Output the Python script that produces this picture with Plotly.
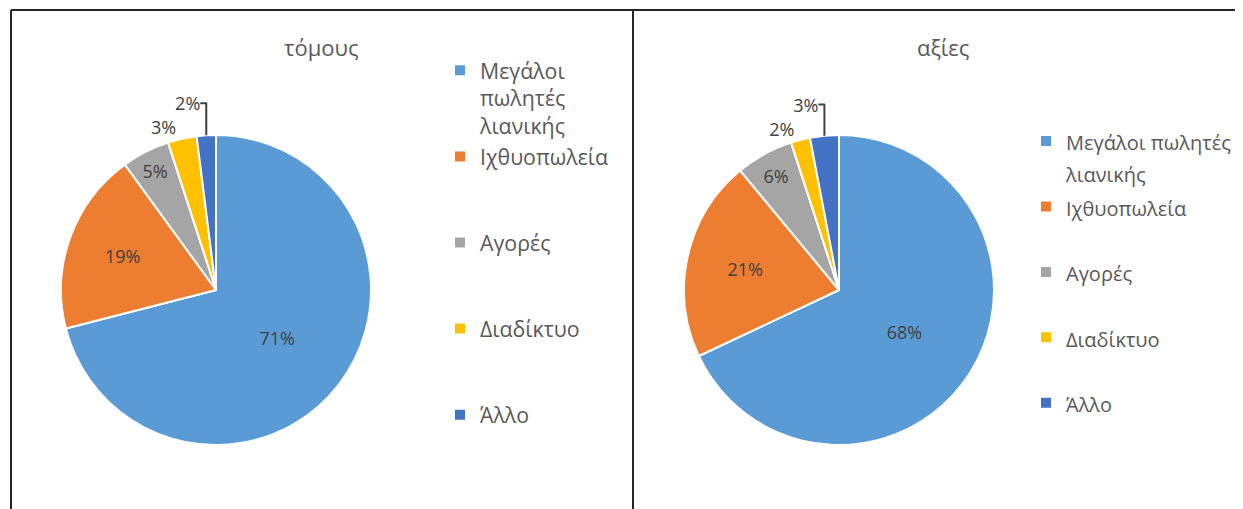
import plotly.graph_objects as go

# the page puts the figure 8px in from the window corner
OFF = 8
W, H = 1243 - OFF, 509 - OFF

categories = ["Μεγάλοι πωλητές λιανικής", "Ιχθυοπωλεία", "Αγορές", "Διαδίκτυο", "Άλλο"]
volume_pct = [71, 19, 5, 3, 2]   # τόμους
value_pct = [68, 21, 6, 2, 3]    # αξίες
slice_colors = ["#5B9BD5", "#ED7D31", "#A5A5A5", "#FFC000", "#4472C4"]
text_pos = ["inside", "inside", "inside", "outside", "outside"]

FONT = "Open Sans"


def px(x, y):
    # window pixel position -> paper coords (margins are zero)
    return (x - OFF) / W, 1 - (y - OFF) / H


# legend labels padded with blank lines so the entries spread out like Excel's
left_labels = ["<br>".join(categories[0].split())] + [c + "<br> <br> " for c in categories[1:]]


def big(s):
    return "<span style='font-size:20px'>" + s + "</span>"


right_labels = [big("Μεγάλοι πωλητές") + "<br>" + big("λιανικής")] + [big(c) + "<br> " for c in categories[1:]]

fig = go.Figure()

fig.add_trace(go.Pie(
    labels=left_labels, values=volume_pct, sort=False,
    direction="clockwise", rotation=0,
    marker=dict(colors=slice_colors, line=dict(color="white", width=2)),
    textinfo="percent", textposition=text_pos,
    textfont=dict(family=FONT, size=18, color="#404040"),
    domain=dict(x=[px(61, 0)[0], px(371, 0)[0]], y=[px(0, 445)[1], px(0, 135)[1]]),
    legend="legend", hoverinfo="skip", name="τόμους",
))

fig.add_trace(go.Pie(
    labels=right_labels, values=value_pct, sort=False,
    direction="clockwise", rotation=0,
    marker=dict(colors=slice_colors, line=dict(color="white", width=2)),
    textinfo="percent", textposition=text_pos,
    textfont=dict(family=FONT, size=18, color="#404040"),
    domain=dict(x=[px(684, 0)[0], px(994, 0)[0]], y=[px(0, 445)[1], px(0, 135)[1]]),
    legend="legend2", hoverinfo="skip", name="αξίες",
))

# chart frames
line = dict(color="#262626", width=2)
top = px(0, 10)[1]
shapes = [
    dict(type="line", xref="paper", yref="paper", x0=px(11, 0)[0], x1=px(11, 0)[0], y0=top, y1=0, line=line),
    dict(type="line", xref="paper", yref="paper", x0=px(633, 0)[0], x1=px(633, 0)[0], y0=top, y1=0, line=line),
    dict(type="line", xref="paper", yref="paper", x0=px(11, 0)[0], x1=1, y0=top, y1=top, line=line),
]

titles = [
    dict(text="τόμους", x=px(321, 0)[0], y=px(0, 47)[1]),
    dict(text="αξίες", x=px(943, 0)[0], y=px(0, 47)[1]),
]
for t in titles:
    t.update(xref="paper", yref="paper", xanchor="center", yanchor="middle", showarrow=False,
             font=dict(family=FONT, size=22, color="#595959"))

fig.update_layout(
    width=W, height=H,
    margin=dict(l=0, r=0, t=0, b=0),
    paper_bgcolor="white", plot_bgcolor="white",
    showlegend=True,
    shapes=shapes,
    annotations=titles,
    legend=dict(x=px(440, 0)[0], y=px(0, 50)[1], xanchor="left", yanchor="top",
                valign="top", bgcolor="rgba(0,0,0,0)",
                font=dict(family=FONT, size=21.3, color="#595959")),
    legend2=dict(x=px(1026, 0)[0], y=px(0, 119)[1], xanchor="left", yanchor="top",
                 valign="top", bgcolor="rgba(0,0,0,0)",
                 font=dict(family=FONT, size=24, color="#595959")),
)

fig.write_html("out.html")
